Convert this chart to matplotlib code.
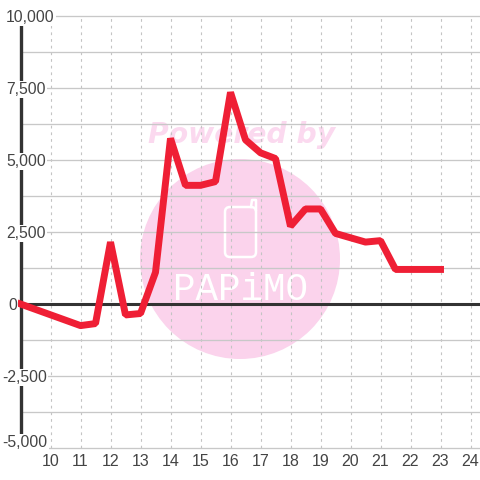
import matplotlib
matplotlib.use("Agg")
import matplotlib.pyplot as plt
from matplotlib.patches import Circle, FancyBboxPatch

hours = [9, 11, 11.5, 12, 12.5, 13, 13.5, 14, 14.5, 15, 15.5, 16, 16.5, 17, 17.5,
         18, 18.5, 19, 19.5, 20, 20.5, 21, 21.5, 22, 22.5, 23]
values = [0, -750, -680, 2150, -380, -330, 1100, 5750, 4120, 4120, 4250, 7350, 5700, 5250, 5050,
          2700, 3300, 3300, 2450, 2300, 2150, 2200, 1200, 1200, 1200, 1200]
x_ticks = list(range(10, 25))
y_major = [10000, 7500, 5000, 2500, 0, -2500, -5000]
y_labels = ["10,000", "7,500", "5,000", "2,500", "0", "-2,500", "-5,000"]
y_minor = [8750, 6250, 3750, 1250, -1250, -3750]

plt.rcParams['font.family'] = ['Liberation Sans', 'DejaVu Sans']

fig = plt.figure(figsize=(4.8, 4.8), dpi=100)
fig.patch.set_facecolor("white")

# watermark, in pixel coordinates, behind the chart
wm = fig.add_axes([0, 0, 1, 1], zorder=-1)
wm.set_xlim(0, 480)
wm.set_ylim(480, 0)
wm.axis("off")
wm.add_patch(Circle((240, 259), 100, color="#fbd3ec", lw=0))
wm.text(242, 135, "Powered by", color="#fbd9ef", fontsize=20.3, fontweight="bold", style="italic",
        family="DejaVu Sans", ha="center", va="center")
wm.add_patch(FancyBboxPatch((225, 207), 31, 50, boxstyle="round,pad=0,rounding_size=5",
                            fc="#fbd3ec", ec="white", lw=1.8))
wm.plot([251, 252, 256, 256], [207, 200, 200, 210], color="white", lw=1.8)
wm.text(240, 290, "PAPiMO", color="white", fontsize=27, family="Liberation Mono",
        ha="center", va="center")

ax = fig.add_axes([0, 0, 1, 1])
ax.axis("off")
# 30 px per hour, 0.0288 px per unit
ax.set_xlim(10 - 50.5 / 30, 10 + 429.5 / 30)
ax.set_ylim(-5000 - 32 / 0.0288, 10000 + 16 / 0.0288)

for v in x_ticks:
    ax.plot([v, v], [-5000, 10000], color="#c4c4c4", lw=0.8, ls=(0, (2.5, 3.5)), zorder=1)
    ax.text(v, -5000 - 14 / 0.0288, str(v), color="#444444", fontsize=11.5, ha="center", va="center", zorder=5)
for v in y_major + y_minor:
    ax.plot([9, ax.get_xlim()[1]], [v, v], color="#c8c8c8", lw=0.95, zorder=1)

ax.plot([9, 9], [-5000, 10000], color="#333333", lw=2.4, zorder=2, solid_capstyle="butt")
ax.plot([9, ax.get_xlim()[1]], [0, 0], color="#333333", lw=2.2, zorder=2, solid_capstyle="butt")
ax.plot(hours, values, color="#ef1f35", lw=5.0, zorder=3, solid_joinstyle="bevel", solid_capstyle="projecting")

label_x = {"0": 8, "-2,500": 2, "-5,000": 2}
for v, s in zip(y_major, y_labels):
    pos = 10 + (label_x.get(s, 6) - 50.5) / 30
    y = v + 190 if v == -5000 else v - 55
    ax.text(pos, y, s, color="#444444", fontsize=11.3, ha="left", va="center", zorder=4,
            bbox=dict(fc="white", ec="none", pad=1))

fig.savefig("out.png", dpi=100)
